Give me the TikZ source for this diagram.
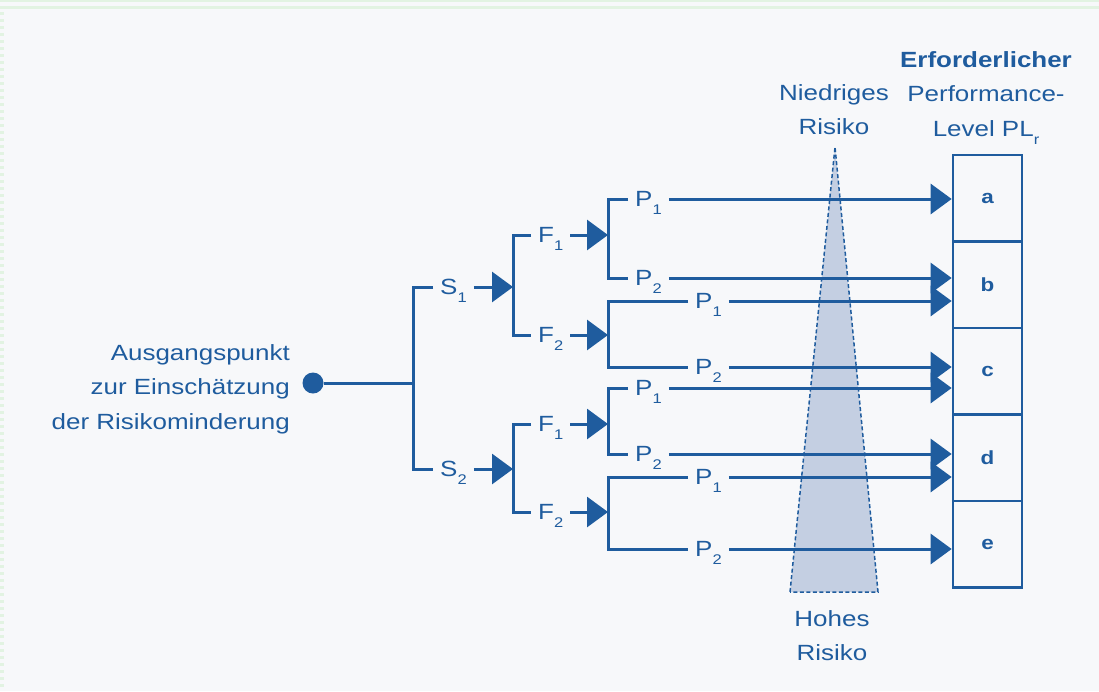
\documentclass[tikz,border=0pt]{standalone}
\usepackage{fontspec}
\setmainfont[FakeStretch=1.18]{Liberation Sans}
\usetikzlibrary{arrows.meta}
\definecolor{dblue}{HTML}{1F5C9E}
\definecolor{bg}{HTML}{F7F8FA}
\definecolor{tri}{HTML}{C4CFE2}
\definecolor{grn}{HTML}{E2F3E2}
\newcommand\subx[1]{\raisebox{-8pt}{\fontsize{14}{14}\selectfont #1}}
\begin{document}
\begin{tikzpicture}[x=1pt,y=-1pt,
  ln/.style={draw=dblue, line width=3pt},
  arr/.style={ln, -{Triangle[length=21pt,width=30pt]}},
  lbl/.style={text=dblue, font=\fontsize{22}{26}\selectfont, inner xsep=7pt, inner ysep=0pt, text height=15.8pt, text depth=0pt, anchor=west},
  txt/.style={text=dblue, font=\fontsize{22}{34.5}\selectfont, inner sep=0pt},
  boxn/.style={draw=dblue, line width=2.7pt, minimum width=69pt, minimum height=86.5pt, inner sep=0pt, text=dblue, font=\fontsize{19}{19}\selectfont\bfseries}
]
\fill[bg] (0,0) rectangle (1099,691);
\useasboundingbox (0,0) rectangle (1099,691);
\fill[grn] (0,0) rectangle (1099,2);
\fill[grn] (0,5.5) rectangle (1099,8.5);
\foreach \k in {0,...,96} \fill[grn] (0,12+7*\k) rectangle (4,14.5+7*\k);

% risk triangle
\path[fill=tri, draw=dblue, line width=1.5pt, dash pattern=on 4pt off 2.5pt] (790,592) -- (835,147) -- (878,592) -- cycle;

% boxes
\node[boxn] (ba) at (987.5,198.25) {a};
\node[boxn] (bb) at (987.5,284.75) {b};
\node[boxn] (bc) at (987.5,371.25) {c};
\node[boxn] (bd) at (987.5,457.75) {d};
\node[boxn] (be) at (987.5,544.25) {e};

% texts
\node[txt, align=right, anchor=north east] (start) at (290,344) {Ausgangspunkt\\zur Einschätzung\\der Risikominderung};
\node[txt, align=center, anchor=north] (lowr) at (834,84) {Niedriges\\Risiko};
\node[txt, align=center, anchor=north] (pl) at (986,51) {\textbf{Erforderlicher}\\Performance-\\Level PL\subx{r}};
\node[txt, align=center, anchor=north] (highr) at (832,610) {Hohes\\Risiko};

% root
\node[circle, fill=dblue, inner sep=0pt, minimum size=21pt] (root) at (313,383) {};
\coordinate (v0) at (413,383);
\node[lbl] (s1) at (433,287) {S\subx{1}};
\node[lbl] (s2) at (433,469) {S\subx{2}};
\draw[ln] (root) -- (v0);
\draw[ln] (s1.west) -| (v0) |- (s2.west);

\coordinate (vs1) at (513,287);
\coordinate (vs2) at (513,469);
\draw[arr] (s1.east) -- (vs1);
\draw[arr] (s2.east) -- (vs2);

\node[lbl] (f11) at (531,235) {F\subx{1}};
\node[lbl] (f12) at (531,335) {F\subx{2}};
\node[lbl] (f21) at (531,424) {F\subx{1}};
\node[lbl] (f22) at (531,512) {F\subx{2}};
\draw[ln] (f11.west) -| (vs1) |- (f12.west);
\draw[ln] (f21.west) -| (vs2) |- (f22.west);

\coordinate (vf11) at (608,235);
\coordinate (vf12) at (608,335);
\coordinate (vf21) at (608,424);
\coordinate (vf22) at (608,512);
\draw[arr] (f11.east) -- (vf11);
\draw[arr] (f12.east) -- (vf12);
\draw[arr] (f21.east) -- (vf21);
\draw[arr] (f22.east) -- (vf22);

\node[lbl] (p111) at (628,199) {P\subx{1}};
\node[lbl] (p112) at (628,278) {P\subx{2}};
\node[lbl] (p121) at (688,301) {P\subx{1}};
\node[lbl] (p122) at (688,367) {P\subx{2}};
\node[lbl] (p211) at (628,388) {P\subx{1}};
\node[lbl] (p212) at (628,454) {P\subx{2}};
\node[lbl] (p221) at (688,477) {P\subx{1}};
\node[lbl] (p222) at (688,549) {P\subx{2}};
\draw[ln] (p111.west) -| (vf11) |- (p112.west);
\draw[ln] (p121.west) -| (vf12) |- (p122.west);
\draw[ln] (p211.west) -| (vf21) |- (p212.west);
\draw[ln] (p221.west) -| (vf22) |- (p222.west);

\draw[arr] (p111.east) -- (p111.east -| ba.west);
\draw[arr] (p112.east) -- (p112.east -| bb.west);
\draw[arr] (p121.east) -- (p121.east -| bb.west);
\draw[arr] (p122.east) -- (p122.east -| bc.west);
\draw[arr] (p211.east) -- (p211.east -| bc.west);
\draw[arr] (p212.east) -- (p212.east -| bd.west);
\draw[arr] (p221.east) -- (p221.east -| bd.west);
\draw[arr] (p222.east) -- (p222.east -| be.west);
\end{tikzpicture}
\end{document}
